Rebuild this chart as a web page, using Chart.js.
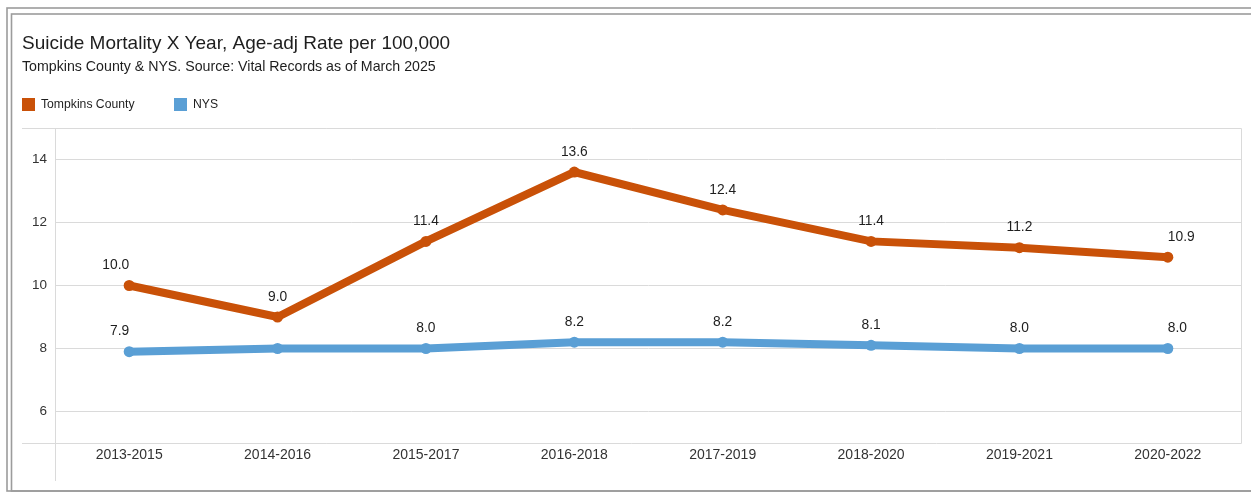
<!DOCTYPE html>
<html>
<head>
<meta charset="utf-8">
<title>Suicide Mortality</title>
<script src="https://cdn.jsdelivr.net/npm/chart.js@4.4.1/dist/chart.umd.min.js"></script>
<style>
  html, body { margin: 0; padding: 0; background: #fff; }
  #wrap { position: relative; width: 1251px; height: 493px; }
</style>
</head>
<body>
<div id="wrap"><canvas id="chart"></canvas></div>
<script>
// 3-year periods and age-adjusted rates per 100,000
const periods = ['2013-2015', '2014-2016', '2015-2017', '2016-2018', '2017-2019', '2018-2020', '2019-2021', '2020-2022'];
const tompkinsRates = [10.0, 9.0, 11.4, 13.6, 12.4, 11.4, 11.2, 10.9];
const nysRates = [7.9, 8.0, 8.0, 8.2, 8.2, 8.1, 8.0, 8.0];
const yTicks = [6, 8, 10, 12, 14];
const yMin = 5;
const yMax = 15;

const FONT = "'Liberation Sans', Arial, sans-serif";
const ORANGE = '#c95108';
const BLUE = '#5a9fd5';
const TEXT = '#1e1e1e';
const GRID = '#dadada';

// value above each point (first one right-aligned, last one left-aligned)
const valueLabels = {
    id: 'valueLabels',
    afterDatasetsDraw(chart) {
        const ctx = chart.ctx;
        ctx.save();
        ctx.font = '13.8px ' + FONT;
        ctx.fillStyle = TEXT;
        ctx.textBaseline = 'middle';
        chart.data.datasets.forEach((ds, i) => {
            const meta = chart.getDatasetMeta(i);
            const last = meta.data.length - 1;
            meta.data.forEach((pt, j) => {
                if (ds.hiddenLabels && ds.hiddenLabels.includes(j)) return;
                ctx.textAlign = j === 0 ? 'right' : (j === last ? 'left' : 'center');
                ctx.fillText(ds.data[j].toFixed(1), pt.x, pt.y - 20);
            });
        });
        ctx.restore();
    }
};

// box lines around the plot, the legend and the outer double border
const frame = {
    id: 'frame',
    beforeDatasetsDraw(chart) {
        const {ctx, chartArea: a, scales: {y}} = chart;
        const top = Math.round(y.getPixelForValue(yMax)) + 0.5;
        const bottom = Math.round(a.bottom) + 0.5;
        const left = Math.round(a.left) + 0.5;
        const right = Math.round(a.right) - 0.5;
        ctx.save();
        ctx.strokeStyle = GRID;
        ctx.lineWidth = 1;
        ctx.beginPath();
        ctx.moveTo(22, top); ctx.lineTo(right, top);
        ctx.moveTo(22, bottom); ctx.lineTo(right, bottom);
        ctx.moveTo(left, top); ctx.lineTo(left, 481);
        ctx.moveTo(right, top); ctx.lineTo(right, bottom);
        ctx.stroke();
        ctx.restore();
    },
    afterDraw(chart) {
        const ctx = chart.ctx;
        ctx.save();
        ctx.strokeStyle = '#9c9c9c';
        ctx.lineWidth = 1.6;
        ctx.strokeRect(7, 8, 1260, 483);
        ctx.strokeRect(11.5, 14, 1260, 477);

        // legend
        const legendX = [22, 174];
        ctx.font = '12.2px ' + FONT;
        ctx.textBaseline = 'middle';
        ctx.textAlign = 'left';
        chart.data.datasets.forEach((ds, i) => {
            ctx.fillStyle = ds.borderColor;
            ctx.fillRect(legendX[i], 98, 13, 13);
            ctx.fillStyle = TEXT;
            ctx.fillText(ds.label, legendX[i] + 19, 104.5);
        });
        ctx.restore();
    }
};

const whiteBg = {
    id: 'whiteBg',
    beforeDraw(chart) {
        const ctx = chart.ctx;
        ctx.save();
        ctx.fillStyle = '#fff';
        ctx.fillRect(0, 0, chart.width, chart.height);
        ctx.restore();
    }
};

new Chart(document.getElementById('chart'), {
    type: 'line',
    data: {
        labels: periods,
        datasets: [{
            label: 'Tompkins County',
            data: tompkinsRates,
            borderColor: ORANGE,
            backgroundColor: ORANGE,
            borderWidth: 8,
            pointRadius: 5.5,
            pointBorderWidth: 0,
            tension: 0
        }, {
            label: 'NYS',
            data: nysRates,
            borderColor: BLUE,
            backgroundColor: BLUE,
            borderWidth: 8,
            pointRadius: 5.5,
            pointBorderWidth: 0,
            tension: 0,
            hiddenLabels: [1]
        }]
    },
    options: {
        responsive: true,
        maintainAspectRatio: false,
        animation: false,
        layout: { padding: { top: 20, left: 22, right: 9, bottom: 10 } },
        plugins: {
            legend: { display: false },
            tooltip: { enabled: false },
            title: {
                display: true,
                text: 'Suicide Mortality X Year, Age-adj Rate per 100,000',
                align: 'start',
                color: TEXT,
                font: { family: FONT, size: 19, weight: 'normal', lineHeight: 1.2 },
                padding: { top: 12.6, bottom: 0 }
            },
            subtitle: {
                display: true,
                text: 'Tompkins County & NYS. Source: Vital Records as of March 2025',
                align: 'start',
                color: TEXT,
                font: { family: FONT, size: 14.2, lineHeight: 1.66 },
                padding: { top: 0, bottom: 49 }
            }
        },
        scales: {
            x: {
                offset: true,
                grid: { display: false },
                border: { display: false },
                ticks: {
                    color: '#333',
                    font: { family: FONT, size: 14 },
                    padding: -4,
                    maxRotation: 0,
                    autoSkip: false
                },
                afterFit(scale) { scale.height = 40; }
            },
            y: {
                min: yMin,
                max: yMax,
                afterBuildTicks(scale) { scale.ticks = yTicks.map(v => ({ value: v })); },
                grid: { color: GRID, drawTicks: false },
                border: { display: false },
                ticks: {
                    color: '#333',
                    font: { family: FONT, size: 13.5 },
                    padding: 8
                },
                afterFit(scale) { scale.width = 33; }
            }
        }
    },
    plugins: [whiteBg, frame, valueLabels]
});
</script>
</body>
</html>
